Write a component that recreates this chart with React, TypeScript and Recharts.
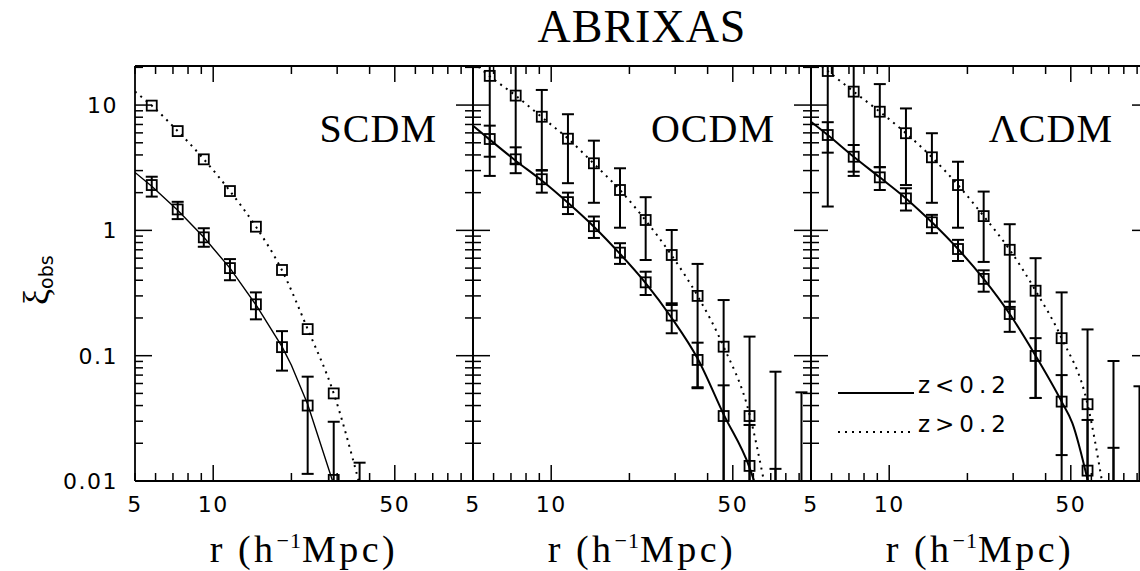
import React from "react"
import { ComposedChart, Line, Scatter, ErrorBar, XAxis, YAxis, ReferenceLine, Legend } from "recharts"

// radial bins (h^-1 Mpc), shared by all panels
const rBins = [5.8, 7.3, 9.2, 11.6, 14.6, 18.4, 23.1, 29.1, 36.6, 46.1, 58.0, 73.0, 91.9]

const xTicks = [5, 6, 7, 8, 9, 10, 20, 30, 40, 50, 60, 70, 80, 90, 100]
const xLabels = [5, 10, 50]
const xMajor = [10, 50]
const yTicks = [
  0.01, 0.02, 0.03, 0.04, 0.05, 0.06, 0.07, 0.08, 0.09,
  0.1, 0.2, 0.3, 0.4, 0.5, 0.6, 0.7, 0.8, 0.9,
  1, 2, 3, 4, 5, 6, 7, 8, 9, 10, 20,
]
const yLabels = [0.01, 0.1, 1, 10]
const Y_MIN = 0.01
const Y_MAX = 20.5

const modelNames = ["SCDM", "OCDM", "ΛCDM"]
const legendItems = [
  { label: "z<0.2", dash: undefined },
  { label: "z>0.2", dash: "2 5" },
]

// error bounds that run off the plot are stored as the axis limits (0.01 / 20.5)

// SCDM
const scdmLow = [2.3, 1.47, 0.88, 0.5, 0.257, 0.117, 0.04, 0.0102]
const scdmLowMin = [1.86, 1.23, 0.74, 0.4, 0.195, 0.076, 0.0114, 0.01]
const scdmLowMax = [2.68, 1.69, 1.04, 0.59, 0.32, 0.157, 0.068, 0.0297]
const scdmHigh = [9.9, 6.2, 3.69, 2.06, 1.07, 0.483, 0.163, 0.05, 0.005]
const scdmHighMin = [null, null, null, null, null, null, null, null, 0.01]
const scdmHighMax = [null, null, null, null, null, null, null, null, 0.014]
const scdmModelLowR = [5, 5.8, 7.3, 9.2, 11.6, 14.6, 18.4, 20.0, 23.1, 28.9]
const scdmModelLow = [2.9, 2.25, 1.45, 0.88, 0.5, 0.255, 0.118, 0.084, 0.041, 0.0098]
const scdmModelHighR = [5, 5.8, 7.3, 9.2, 11.6, 14.6, 18.4, 23.1, 29.1, 36.4]
const scdmModelHigh = [12.8, 9.9, 6.2, 3.7, 2.06, 1.07, 0.48, 0.163, 0.05, 0.0098]

// OCDM
const ocdmLow = [5.36, 3.69, 2.56, 1.68, 1.08, 0.664, 0.385, 0.209, 0.0925, 0.033, 0.0132, 0.005]
const ocdmLowMin = [3.87, 2.86, 2.0, 1.35, 0.87, 0.54, 0.305, 0.151, 0.056, 0.01, 0.01, 0.01]
const ocdmLowMax = [6.85, 4.6, 3.0, 2.0, 1.29, 0.79, 0.468, 0.262, 0.127, 0.058, 0.028, 0.0125]
const ocdmHigh = [17.1, 11.9, 8.07, 5.39, 3.43, 2.1, 1.21, 0.636, 0.3, 0.118, 0.033, 0.005, 0.005]
const ocdmHighMin = [2.72, 3.4, 3.03, 2.38, 1.66, 1.05, 0.58, 0.254, 0.055, 0.01, 0.01, 0.01, 0.01]
const ocdmHighMax = [20.5, 20.5, 13.2, 8.45, 5.2, 3.13, 1.84, 1.007, 0.54, 0.278, 0.142, 0.0745, 0.051]
const ocdmModelLowR = [5, 5.8, 7.3, 9.2, 11.6, 14.6, 18.4, 23.1, 29.1, 36.6, 46.1, 58.0, 60.6]
const ocdmModelLow = [6.85, 5.3, 3.6, 2.5, 1.66, 1.07, 0.65, 0.38, 0.2, 0.095, 0.034, 0.0128, 0.0098]
const ocdmModelHighR = [5, 5.8, 7.3, 9.2, 11.6, 14.6, 18.4, 23.1, 29.1, 36.6, 46.1, 58.0, 66.0]
const ocdmModelHigh = [22, 17, 11.9, 8.0, 5.4, 3.4, 2.1, 1.2, 0.63, 0.3, 0.118, 0.034, 0.0098]

// LCDM
const lcdmLow = [5.77, 3.87, 2.65, 1.8, 1.16, 0.71, 0.41, 0.215, 0.0995, 0.043, 0.0121, 0.005]
const lcdmLowMin = [4.17, 2.72, 2.1, 1.44, 0.95, 0.57, 0.324, 0.155, 0.046, 0.0161, 0.01, 0.01]
const lcdmLowMax = [7.3, 4.8, 3.2, 2.17, 1.33, 0.84, 0.48, 0.27, 0.138, 0.07, 0.0307, 0.0184]
const lcdmHigh = [18.7, 12.8, 8.85, 5.96, 3.83, 2.3, 1.3, 0.7, 0.33, 0.138, 0.041, 0.005, 0.005]
const lcdmHighMin = [1.55, 2.94, 3.19, 2.3, 1.66, 1.05, 0.56, 0.245, 0.046, 0.01, 0.01, 0.01, 0.01]
const lcdmHighMax = [20.5, 20.5, 14.7, 9.4, 5.96, 3.53, 2.04, 1.12, 0.6, 0.32, 0.162, 0.0907, 0.057]
const lcdmModelLowR = [5, 5.8, 7.3, 9.2, 11.6, 14.6, 18.4, 23.1, 29.1, 36.6, 46.1, 50.7, 58.3]
const lcdmModelLow = [7.36, 5.77, 3.87, 2.65, 1.8, 1.16, 0.71, 0.41, 0.215, 0.1, 0.043, 0.029, 0.0098]
const lcdmModelHighR = [5, 5.8, 7.3, 9.2, 11.6, 14.6, 18.4, 23.1, 29.1, 36.6, 46.1, 58.0, 66.0]
const lcdmModelHigh = [24, 18.7, 12.8, 8.85, 5.96, 3.83, 2.3, 1.3, 0.7, 0.33, 0.138, 0.041, 0.0098]

const PLOT_W = 338
const TOP = 66
const BOTTOM = 481
const H = 571
const SERIF = "'Liberation Serif', 'Times New Roman', serif"
const SANS = "'DejaVu Sans', sans-serif"

const toPoints = (v: number[], lo: (number | null)[], hi: (number | null)[]) =>
  v.map((y, i) => ({
    r: rBins[i],
    v: y,
    err: lo[i] == null ? undefined : [y - (lo[i] as number), (hi[i] as number) - y],
  }))

const toCurve = (r: number[], v: number[]) => r.map((x, i) => ({ r: x, v: v[i] }))

const Square = (props: any) => {
  const { cx, cy } = props
  if (cx == null || cy == null) return <g />
  return <rect x={cx - 5} y={cy - 5} width={10} height={10} fill="none" stroke="#000" strokeWidth={1.8} />
}

const LegendBox = () => (
  <svg width={220} height={70} style={{ overflow: "visible" }}>
    {legendItems.map((it, i) => (
      <g key={it.label}>
        <line x1={0} x2={76} y1={23 + i * 39} y2={23 + i * 39} stroke="#000" strokeWidth={1.8} strokeDasharray={it.dash} />
        <text x={80} y={23 + i * 39} fontFamily={SANS} fontSize={23} letterSpacing={5}>
          {it.label}
        </text>
      </g>
    ))}
  </svg>
)

type PanelProps = {
  left: number
  padL: number
  name: string
  low: any[]
  high: any[]
  lowCurve: any[]
  highCurve: any[]
  lineW: number
  showY: boolean
  legend: boolean
}

function Panel({ left, padL, low, high, lowCurve, highCurve, lineW, showY, legend }: PanelProps) {
  const width = padL + PLOT_W + 12
  const plotL = padL
  const plotR = padL + PLOT_W

  const XTick = (p: any) => {
    const { x, payload } = p
    const v = payload.value
    const len = xMajor.includes(v) ? 16 : 8
    return (
      <g>
        <line x1={x} y1={BOTTOM} x2={x} y2={BOTTOM - len} stroke="#000" strokeWidth={1.5} />
        <line x1={x} y1={TOP} x2={x} y2={TOP + len} stroke="#000" strokeWidth={1.5} />
        {xLabels.includes(v) && (
          <text x={x} y={BOTTOM + 31} textAnchor="middle" fontFamily={SANS} fontSize={22} letterSpacing={1.5} fill="#000">
            {v}
          </text>
        )}
      </g>
    )
  }

  const YTick = (p: any) => {
    const { y, payload } = p
    const v = payload.value
    const major = yLabels.includes(v)
    const len = major ? 17 : 8
    return (
      <g>
        <line x1={plotL} y1={y} x2={plotL + len} y2={y} stroke="#000" strokeWidth={1.5} />
        <line x1={plotR} y1={y} x2={plotR - len} y2={y} stroke="#000" strokeWidth={1.5} />
        {showY && major && (
          <text x={plotL - 17} y={y + 8} textAnchor="end" fontFamily={SANS} fontSize={22} letterSpacing={1.5} fill="#000">
            {String(v)}
          </text>
        )}
      </g>
    )
  }

  const XLabel = (p: any) => {
    const vb = p.viewBox || {}
    const cx = (vb.x ?? plotL) + (vb.width ?? PLOT_W) / 2
    return (
      <text x={cx} y={562} textAnchor="middle" fontFamily={SERIF} fontSize={38} letterSpacing={3.5} fill="#000">
        <tspan>r</tspan>
        <tspan dx={12}>(h</tspan>
        <tspan fontSize={22} dy={-14} letterSpacing={1}>−1</tspan>
        <tspan dy={14}>Mpc)</tspan>
      </text>
    )
  }

  return (
    <div style={{ position: "absolute", left, top: 0 }}>
      <ComposedChart width={width} height={H} margin={{ top: TOP, bottom: H - BOTTOM - 1, left: padL - 1, right: 12 }}>
        <XAxis
          dataKey="r"
          type="number"
          scale="log"
          domain={[5, 100]}
          ticks={xTicks}
          interval={0}
          allowDataOverflow
          height={1}
          tickSize={0}
          tickLine={false}
          axisLine={{ stroke: "#000", strokeWidth: 1.8 }}
          tick={XTick}
          label={{ content: XLabel }}
        />
        <YAxis
          dataKey="v"
          type="number"
          scale="log"
          domain={[Y_MIN, Y_MAX]}
          ticks={yTicks}
          interval={0}
          allowDataOverflow
          width={1}
          tickSize={0}
          tickLine={false}
          axisLine={{ stroke: "#000", strokeWidth: 1.8 }}
          tick={YTick}
        />
        <ReferenceLine y={Y_MAX} stroke="#000" strokeWidth={1.8} />
        <ReferenceLine x={100} stroke="#000" strokeWidth={1.8} />
        <Line data={lowCurve} dataKey="v" type={lineW < 1.8 ? "linear" : "monotone"} stroke="#000" strokeWidth={lineW} dot={false} activeDot={false} isAnimationActive={false} />
        <Line data={highCurve} dataKey="v" type="monotone" stroke="#000" strokeWidth={2} strokeDasharray="2 5" dot={false} activeDot={false} isAnimationActive={false} />
        <Scatter data={low} dataKey="v" shape={Square} isAnimationActive={false}>
          <ErrorBar dataKey="err" direction="y" width={6} stroke="#000" strokeWidth={2} isAnimationActive={false} />
        </Scatter>
        <Scatter data={high} dataKey="v" shape={Square} isAnimationActive={false}>
          <ErrorBar dataKey="err" direction="y" width={6} stroke="#000" strokeWidth={2} isAnimationActive={false} />
        </Scatter>
        {legend && (
          <Legend
            layout="horizontal"
            verticalAlign="middle"
            align="center"
            content={() => <LegendBox />}
            wrapperStyle={{ position: "absolute", left: 47, top: 370, width: 220, height: 70 }}
          />
        )}
      </ComposedChart>
    </div>
  )
}

const panels = [
  {
    left: 0,
    padL: 135,
    low: toPoints(scdmLow, scdmLowMin, scdmLowMax),
    high: toPoints(scdmHigh, scdmHighMin, scdmHighMax),
    lowCurve: toCurve(scdmModelLowR, scdmModelLow),
    highCurve: toCurve(scdmModelHighR, scdmModelHigh),
    lineW: 1.4,
    showY: true,
    legend: false,
  },
  {
    left: 453,
    padL: 20,
    low: toPoints(ocdmLow, ocdmLowMin, ocdmLowMax),
    high: toPoints(ocdmHigh, ocdmHighMin, ocdmHighMax),
    lowCurve: toCurve(ocdmModelLowR, ocdmModelLow),
    highCurve: toCurve(ocdmModelHighR, ocdmModelHigh),
    lineW: 2,
    showY: false,
    legend: false,
  },
  {
    left: 791,
    padL: 20,
    low: toPoints(lcdmLow, lcdmLowMin, lcdmLowMax),
    high: toPoints(lcdmHigh, lcdmHighMin, lcdmHighMax),
    lowCurve: toCurve(lcdmModelLowR, lcdmModelLow),
    highCurve: toCurve(lcdmModelHighR, lcdmModelHigh),
    lineW: 2,
    showY: false,
    legend: true,
  },
]

export default function App() {
  return (
    <div style={{ position: "absolute", left: 0, top: 0, width: 1140, height: H, overflow: "hidden", background: "#fff" }}>
      {panels.map((p, i) => (
        <Panel key={i} name={modelNames[i]} {...p} />
      ))}
      <svg width={1140} height={H} style={{ position: "absolute", left: 0, top: 0, pointerEvents: "none" }}>
        <text x={642} y={42} textAnchor="middle" fontFamily={SERIF} fontSize={46} letterSpacing={1}>
          ABRIXAS
        </text>
        {panels.map((p, i) => (
          <text key={i} x={p.left + p.padL + PLOT_W - 36} y={142} textAnchor="end" fontFamily={SERIF} fontSize={40} letterSpacing={1}>
            {modelNames[i]}
          </text>
        ))}
        <text transform="translate(48,305) rotate(-90)">
          <tspan fontFamily={SERIF} fontSize={36}>ξ</tspan>
          <tspan fontFamily={SANS} fontSize={19} dy={5}>obs</tspan>
        </text>
      </svg>
    </div>
  )
}
